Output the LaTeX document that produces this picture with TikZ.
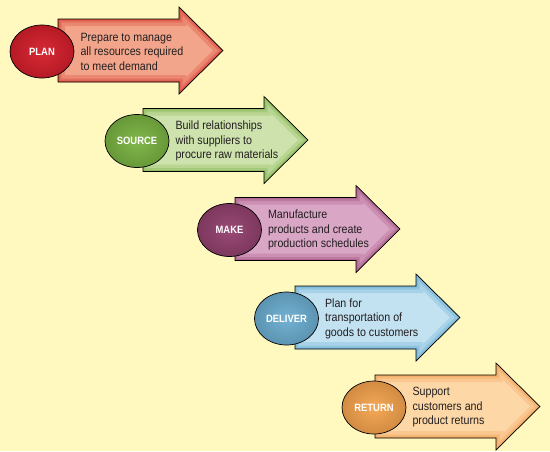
\documentclass[tikz,border=0pt]{standalone}
\usepackage{fontspec}
\setmainfont{Liberation Sans}[FakeStretch=0.89]
\usetikzlibrary{positioning,shapes.geometric}

\definecolor{paper}{HTML}{FFF9BF}
\definecolor{ink}{HTML}{231F20}
\definecolor{planFill}{HTML}{F3A58B}
\definecolor{planEdge}{HTML}{D9483A}
\definecolor{planBall}{HTML}{D51F2B}
\definecolor{sourceFill}{HTML}{CDE2AC}
\definecolor{sourceEdge}{HTML}{88B858}
\definecolor{sourceBall}{HTML}{7AB342}
\definecolor{makeFill}{HTML}{D9A6C6}
\definecolor{makeEdge}{HTML}{A85C88}
\definecolor{makeBall}{HTML}{93416E}
\definecolor{deliverFill}{HTML}{C2E1F1}
\definecolor{deliverEdge}{HTML}{6FB0D3}
\definecolor{deliverBall}{HTML}{6CAED1}
\definecolor{returnFill}{HTML}{FDD7A6}
\definecolor{returnEdge}{HTML}{F0A45A}
\definecolor{returnBall}{HTML}{F6A44E}

% arrow body, from the middle of its tail
\newcommand{\stagearrow}[1]{(#1) ++(0,-31.5) -- ++(121,0) -- ++(0,-12) -- ++(44,43.5)
  -- ++(-44,43.5) -- ++(0,-12) -- ++(-121,0) -- cycle}

\begin{document}
\begin{tikzpicture}[
		  x=1pt,y=-1pt,
		  badge/.style={draw=black,line width=0.7pt,ellipse,minimum width=64pt,minimum height=53pt,
		    inner sep=0pt,text=white,font=\bfseries\fontsize{10.6}{13}\selectfont},
		  stagetext/.style={align=left,inner sep=0pt,text=ink,font=\fontsize{12}{14.5}\selectfont},
		  outline/.style={draw=black,line width=0.7pt,line join=miter}
		]
		\useasboundingbox (0,0) rectangle (550,451);
		\fill[paper] (0,0) rectangle (550,451);
		\foreach \nm/\tx/\ty/\ex/\lab/\txt in {
		    plan/58/50.5/42/PLAN/{Prepare to manage\\all resources required\\to meet demand},
		    source/143/140/137/SOURCE/{Build relationships\\with suppliers to\\procure raw materials},
		    make/235/229/229.5/MAKE/{Manufacture\\products and create\\production schedules},
		    deliver/295/317.5/286.5/DELIVER/{Plan for\\transportation of\\goods to customers},
		    return/375/406.5/374/RETURN/{Support\\customers and\\product returns}}{
		  \coordinate (\nm Tail) at (\tx,\ty);
		  \begin{scope}
		    \clip \stagearrow{\nm Tail};
		    \fill[\nm Fill] \stagearrow{\nm Tail};
		    \draw[\nm Edge,line width=14pt,opacity=0.3] \stagearrow{\nm Tail};
		    \draw[\nm Edge,line width=7pt,opacity=0.4] \stagearrow{\nm Tail};
		    \draw[\nm Edge,line width=3pt,opacity=0.6] \stagearrow{\nm Tail};
		  \end{scope}
		  \draw[outline] \stagearrow{\nm Tail};
		  \node[badge,inner color=\nm Ball!95!white,outer color=\nm Ball!85!black] (\nm) at (\ex,\ty+1) {\lab};
		  \node[stagetext,right=6pt of \nm] (\nm Text) {\txt};
		}
		\end{tikzpicture}
\end{document}
